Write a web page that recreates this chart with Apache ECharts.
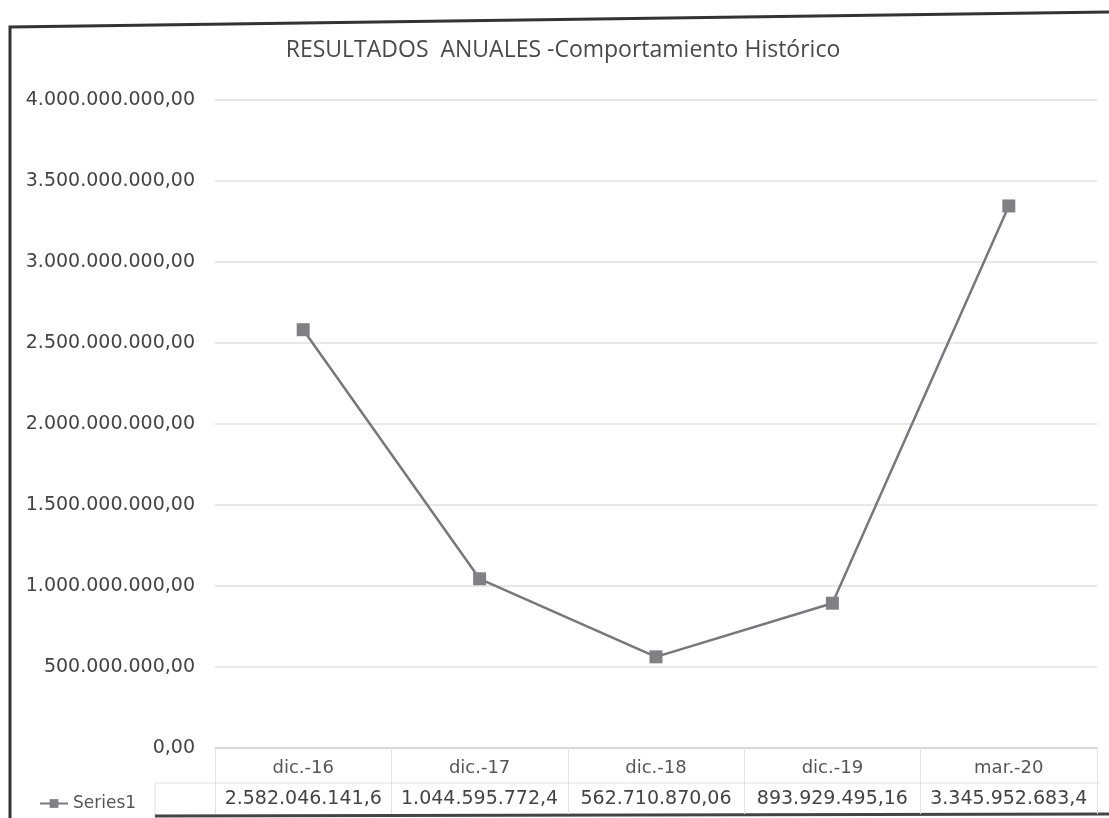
<!DOCTYPE html>
<html><head><meta charset="utf-8">
<script src="https://cdn.jsdelivr.net/npm/echarts@6/dist/echarts.min.js"></script>
<style>html,body{margin:0;padding:0;background:#fff}#c{width:1109px;height:818px}</style>
</head><body><div id="c"></div>
<script>
const categories = ['dic.-16','dic.-17','dic.-18','dic.-19','mar.-20'];
const values = [2582046141.6, 1044595772.4, 562710870.06, 893929495.16, 3345952683.4];
const tableLabels = ['2.582.046.141,6','1.044.595.772,4','562.710.870,06','893.929.495,16','3.345.952.683,4'];
const seriesName = 'Series1';
const titleText = 'RESULTADOS  ANUALES -Comportamiento Histórico';

function fmtEs(v){
  const s = Math.round(v).toString().replace(/\B(?=(\d{3})+(?!\d))/g,'.');
  return s + ',00';
}
const FONT = 'DejaVu Sans';
const chart = echarts.init(document.getElementById('c'));
chart.setOption({
  backgroundColor:'#fff',
  animation:false,
  title:{text:titleText,left:558,textAlign:'center',top:34,
    textStyle:{fontFamily:'Open Sans',fontSize:23,fontWeight:'normal',color:'#4a4a4a'}},
  legend:{left:34,top:790,itemWidth:28,itemHeight:11,itemGap:3,
    textStyle:{fontFamily:FONT,fontSize:17,color:'#555'},data:[seriesName]},
  grid:{left:215,right:12,top:100,bottom:70,containLabel:false},
  xAxis:{type:'category',data:categories,boundaryGap:true,
    axisLine:{lineStyle:{color:'#d4d4d4',width:1.5}},
    axisTick:{show:true,length:66,alignWithLabel:false,lineStyle:{color:'#e2e2e2'}},
    axisLabel:{margin:5,interval:0,
      formatter:function(v,i){return '{c|'+v+'}\n{v|'+tableLabels[i]+'}';},
      rich:{c:{fontFamily:FONT,fontSize:18,color:'#555',lineHeight:30},
            v:{fontFamily:FONT,fontSize:19,color:'#444',lineHeight:32}}}},
  yAxis:{type:'value',min:0,max:4000000000,interval:500000000,
    axisLine:{show:false},axisTick:{show:false},
    splitLine:{lineStyle:{color:'#e0e0e0',width:1.5}},
    axisLabel:{margin:20,formatter:fmtEs,fontFamily:FONT,fontSize:19,color:'#444'}},
  series:[{name:seriesName,type:'line',data:values,
    symbol:'rect',symbolSize:13,
    lineStyle:{color:'#777780',width:2.5},
    itemStyle:{color:'#808085'}}],
  graphic:[
    {type:'polyline',shape:{points:[[10,818],[10,27],[1109,12]]},style:{stroke:'#333',lineWidth:3,fill:null}},
    {type:'line',shape:{x1:155,y1:783,x2:1100,y2:783},style:{stroke:'#e2e2e2',lineWidth:1}},
    {type:'line',shape:{x1:155,y1:783,x2:155,y2:818},style:{stroke:'#e2e2e2',lineWidth:1}},
    {type:'line',shape:{x1:155,y1:816,x2:1109,y2:814},style:{stroke:'#444',lineWidth:3}}
  ]
});
</script></body></html>
